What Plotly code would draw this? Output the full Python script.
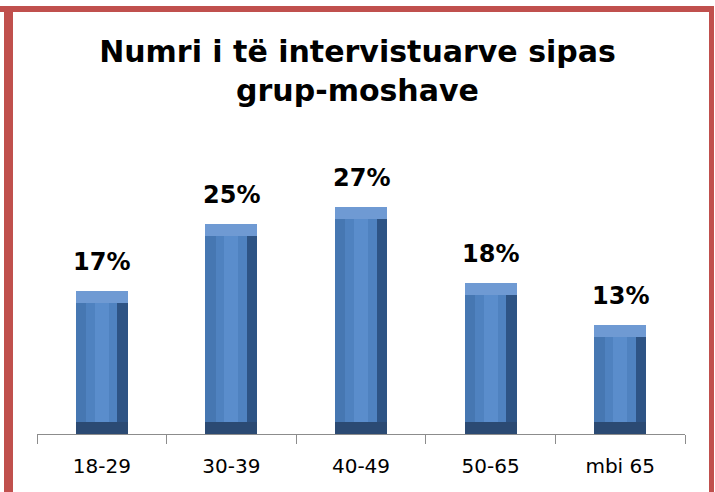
import plotly.graph_objects as go

# ---- data ----
categories = ["18-29", "30-39", "40-49", "50-65", "mbi 65"]
values = [17, 25, 27, 18, 13]
labels = ["17%", "25%", "27%", "18%", "13%"]
title_text = "Numri i të intervistuarve sipas<br>grup-moshave"

# ---- layout geometry ----
W, H = 715, 492
ML, MR, MT, MB = 37, 30, 182, 58
YMAX = 30
FONT = "DejaVu Sans"

BAR_W = 0.40      # full bar width (category units)
SIDE = 0.08       # side bevel width (category units)
CAP = 1.45        # top/bottom bevel height (data units)

def px_x(px):
    return (px - ML) / (W - ML - MR)

def px_y(py):
    return (H - MB - py) / (H - MT - MB)

fig = go.Figure()

def bar_layer(y, base, offset, width, color):
    fig.add_trace(go.Bar(
        x=categories, y=y, base=base, offset=offset, width=width,
        marker=dict(color=color, line=dict(width=0)),
        hoverinfo="skip", showlegend=False,
    ))

n = len(values)
# left/mid body
bar_layer(values, [0] * n, -BAR_W / 2, BAR_W, "#4677B2")
# right dark bevel
bar_layer(values, [0] * n, BAR_W / 2 - SIDE, SIDE, "#2E5485")
# bottom dark bevel
bar_layer([CAP] * n, [0] * n, -BAR_W / 2, BAR_W, "#2B4A73")
# top light bevel
bar_layer([CAP] * n, [v - CAP for v in values], -BAR_W / 2, BAR_W, "#6F9AD3")
# front face
face_w = BAR_W - 2 * SIDE
bar_layer([v - 2 * CAP for v in values], [CAP] * n, -face_w / 2, face_w, "#4F82C0")
# highlight stripe on face
stripe_w = face_w * 0.45
bar_layer([v - 2 * CAP for v in values], [CAP] * n, -stripe_w / 2, stripe_w, "#5A8DCC")

for c, v, t in zip(categories, values, labels):
    fig.add_annotation(
        x=c, y=v, text=f"<b>{t}</b>", showarrow=False,
        yanchor="bottom", yshift=13,
        font=dict(family=FONT, size=24, color="#000000"),
    )

shapes = []
red = "#C0504D"
# top, left, right border bars
shapes.append(dict(type="rect", xref="paper", yref="paper",
                   x0=px_x(0), x1=px_x(713), y0=px_y(6), y1=px_y(12),
                   fillcolor=red, line=dict(width=0), layer="above"))
shapes.append(dict(type="rect", xref="paper", yref="paper",
                   x0=px_x(4), x1=px_x(13), y0=px_y(6), y1=px_y(500),
                   fillcolor=red, line=dict(width=0), layer="above"))
shapes.append(dict(type="rect", xref="paper", yref="paper",
                   x0=px_x(709), x1=px_x(714), y0=px_y(6), y1=px_y(500),
                   fillcolor=red, line=dict(width=0), layer="above"))

fig.update_layout(
    width=W, height=H,
    margin=dict(l=ML, r=MR, t=MT, b=MB, pad=0),
    paper_bgcolor="white", plot_bgcolor="white",
    barmode="overlay",
    bargap=0,
    title=dict(text=f"<b>{title_text}</b>", x=0.5, xref="container",
               xanchor="center", y=1 - 62 / H, yref="container", yanchor="top",
               font=dict(family=FONT, size=30, color="#000000")),
    xaxis=dict(
        type="category", range=[-0.5, 4.5],
        showline=True, linecolor="#8C8C8C", linewidth=1,
        ticks="outside", tickson="boundaries", ticklen=9,
        tickcolor="#8C8C8C", tickwidth=1,
        showgrid=False, zeroline=False,
        tickfont=dict(family=FONT, size=20, color="#000000"),
        ticklabelstandoff=14,
    ),
    yaxis=dict(range=[0, YMAX], visible=False, showgrid=False, zeroline=False),
    shapes=shapes,
    font=dict(family=FONT),
)

fig.write_html("out.html", config={"displayModeBar": False},
               post_script="document.body.style.margin='0';")
